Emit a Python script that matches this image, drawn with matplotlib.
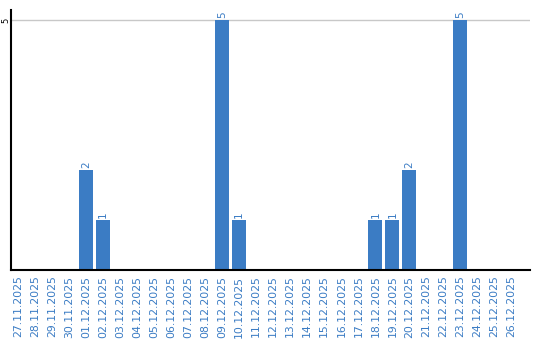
import numpy as np
import matplotlib.pyplot as plt

fechas = ["27.11.2025", "28.11.2025", "29.11.2025", "30.11.2025",
          "01.12.2025", "02.12.2025", "03.12.2025", "04.12.2025",
          "05.12.2025", "06.12.2025", "07.12.2025", "08.12.2025",
          "09.12.2025", "10.12.2025", "11.12.2025", "12.12.2025",
          "13.12.2025", "14.12.2025", "15.12.2025", "16.12.2025",
          "17.12.2025", "18.12.2025", "19.12.2025", "20.12.2025",
          "21.12.2025", "22.12.2025", "23.12.2025", "24.12.2025",
          "25.12.2025", "26.12.2025"]
valores = [0, 0, 0, 0, 2, 1, 0, 0, 0, 0, 0, 0, 5, 1, 0, 0, 0, 0, 0, 0,
           0, 1, 1, 2, 0, 0, 5, 0, 0, 0]
ticks_y = [5]

azul = "#3b7cc4"

fig = plt.figure(figsize=(5.4, 3.4), dpi=100)
ax = fig.add_axes([11/540, 1 - 270/340, 519/540, 260/340])

x = np.arange(len(fechas))
ax.bar(x, valores, width=0.82, color=azul, zorder=2)

# etiquetas de valor encima de cada barra
for xi, v in zip(x, valores):
    if v > 0:
        ax.text(xi, v + 0.04, str(v), rotation=90, ha="center", va="bottom",
                fontsize=7.5, color=azul)

ax.set_xlim(-0.41, 30.09)
ax.set_ylim(0, 5.2)
ax.set_yticks(ticks_y)
ax.set_yticklabels([str(t) for t in ticks_y], rotation=90, va="center",
                   ha="center", fontsize=6)
ax.yaxis.grid(True, color="#c8c8c8", linewidth=1, zorder=0)
ax.set_xticks(x)
ax.set_xticklabels(fechas, rotation=90, fontsize=7.8, color=azul, va="top")
ax.tick_params(axis="both", length=0)
ax.tick_params(axis="x", pad=4)
ax.tick_params(axis="y", pad=4)

for lado in ["top", "right"]:
    ax.spines[lado].set_visible(False)
ax.spines["left"].set_linewidth(1.5)
ax.spines["bottom"].set_linewidth(1.5)

fig.savefig("out.png", dpi=100)
